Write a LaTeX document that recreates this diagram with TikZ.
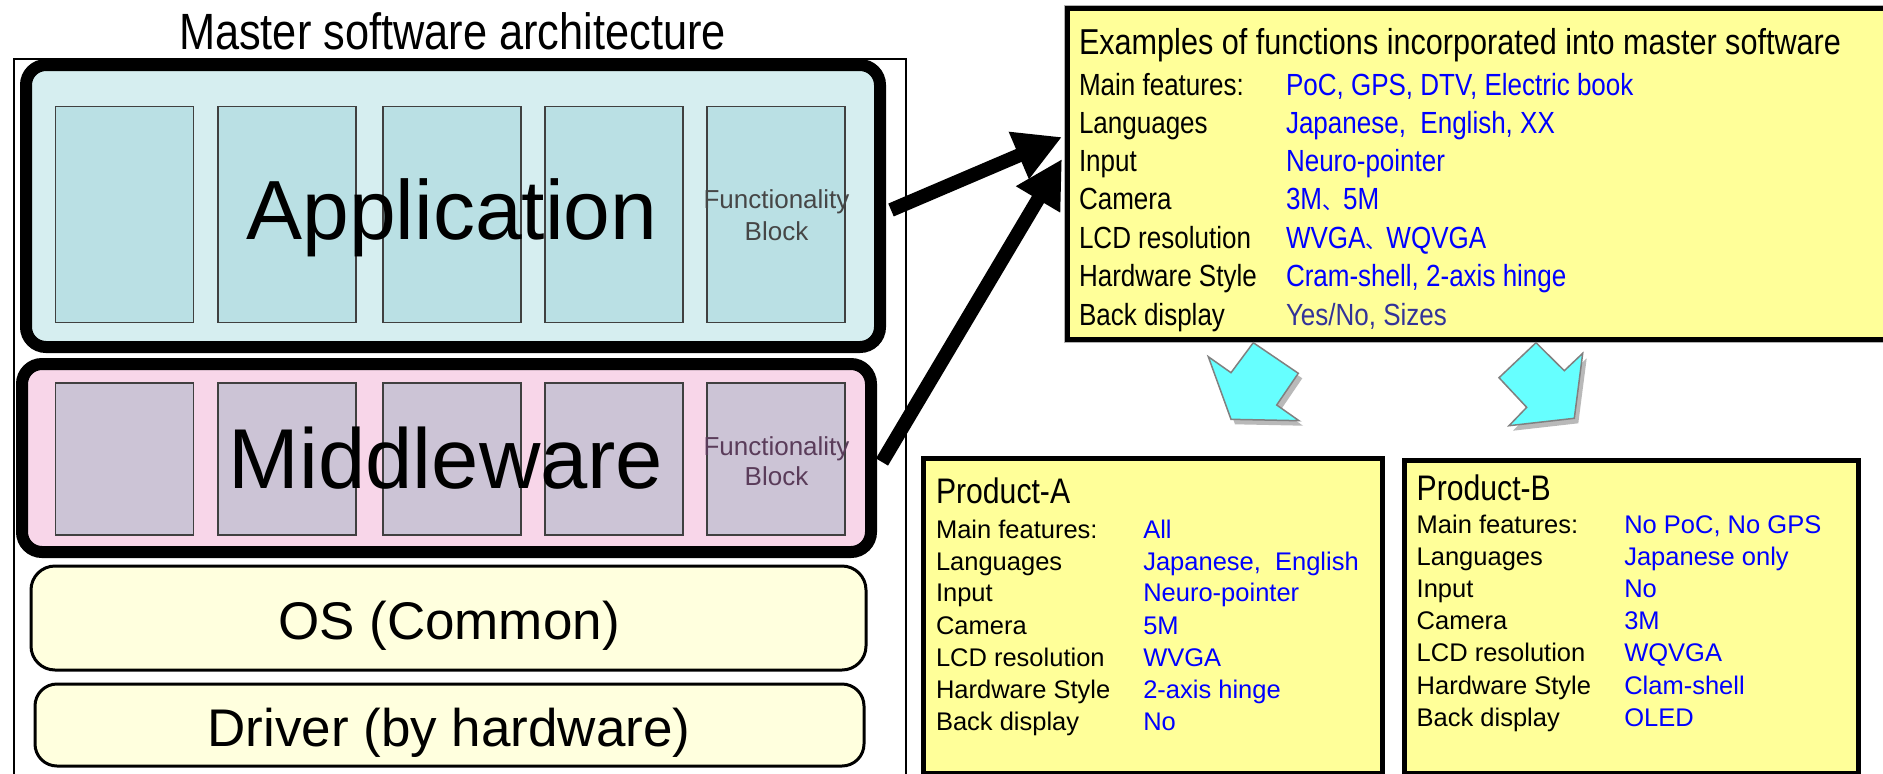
\documentclass[tikz,border=0pt]{standalone}
\usepackage{fontspec}
\setmainfont{Liberation Sans}
\newfontfamily\narrowfont[FakeStretch=0.85]{Liberation Sans}
\newfontfamily\cjkfont{Noto Sans CJK JP}
\usetikzlibrary{arrows.meta}

\definecolor{appbg}{RGB}{214,238,240}
\definecolor{appblk}{RGB}{186,224,228}
\definecolor{midbg}{RGB}{248,214,233}
\definecolor{midblk}{RGB}{204,196,214}
\definecolor{osbg}{RGB}{255,255,222}
\definecolor{notebg}{RGB}{255,255,153}
\definecolor{valblue}{RGB}{0,0,255}
\definecolor{valslate}{RGB}{51,51,153}
\definecolor{cyanfill}{RGB}{102,255,255}
\definecolor{fbgrey}{RGB}{70,70,70}
\definecolor{fbpurple}{RGB}{90,60,90}

\newcommand{\fsz}[1]{\fontsize{#1}{#1}\selectfont}
% ideographic comma, set a little smaller so the next word follows closely
\newcommand{\jcomma}{{\cjkfont\fsz{21}、}}
% one "label  value" line of a feature table
\newcommand{\inforow}[7]{%
  \node[lbl] (#1-l) at (#2,#4) {#5};
  \node[lbl, text=#6] (#1-v) at (#3,#4) {#7};}

\begin{document}
\begin{tikzpicture}[x=1pt,y=-1pt,
  lbl/.style={inner sep=0pt, outer sep=0pt, anchor=base west},
  ctr/.style={inner sep=0pt, outer sep=0pt, anchor=base},
  layerbox/.style={draw=black, line width=12pt, rounded corners=20pt, inner sep=0pt},
  lowerbox/.style={draw=black, line width=3pt, rounded corners=24pt, fill=osbg, inner sep=0pt},
  fnblock/.style={draw=black!75, line width=1.2pt, inner sep=0pt, minimum width=138pt},
  notebox/.style={draw=black, line width=5pt, fill=notebg, inner sep=0pt, anchor=north west},
  bigarrow/.style={line width=14pt, -{Triangle[length=47pt,width=48pt]}},
  cyanarrow/.style={draw=gray, line width=1.5pt, fill=cyanfill, line join=miter},
  arrowshadow/.style={fill=gray!55}
]
\useasboundingbox (0,0) rectangle (1883,774);
\fill[white] (0,0) rectangle (1883,774);

% ---------- master software architecture stack ----------
\node[ctr, font=\narrowfont\fsz{51}] (title) at (452.5,49) {Master software architecture};
\node[draw=black, line width=2pt, inner sep=0pt, anchor=north west,
      minimum width=892pt, minimum height=760pt] (frame) at (13,58) {};

\node[layerbox, fill=appbg, minimum width=854pt, minimum height=282pt] (app) at (453,206) {};
\node[layerbox, fill=midbg, minimum width=849pt, minimum height=188pt] (mid) at (446.5,458) {};
\node[lowerbox, minimum width=835pt, minimum height=104pt] (os) at (448.5,618) {};
\node[lowerbox, rounded corners=22pt, minimum width=829pt, minimum height=82pt] (drv) at (449.5,725) {};

\foreach \cx [count=\i] in {124.7,287,452,614,776}{
  \node[fnblock, fill=appblk, minimum height=216pt] (appblk\i) at (\cx,214.7) {};
  \node[fnblock, fill=midblk, minimum height=152pt] (midblk\i) at (\cx,459) {};
}

\node[ctr, font=\fsz{84}] (apptext) at (452,239) {Application};
\node[ctr, font=\fsz{85}] (midtext) at (446,488) {Middleware};
\node[ctr, font=\fsz{26}, text=fbgrey] (appfb1) at (776.5,208) {Functionality};
\node[ctr, font=\fsz{26}, text=fbgrey] (appfb2) at (776.5,240) {Block};
\node[ctr, font=\fsz{26}, text=fbpurple] (midfb1) at (776.5,455) {Functionality};
\node[ctr, font=\fsz{26}, text=fbpurple] (midfb2) at (776.5,485) {Block};
\node[ctr, font=\fsz{53}] (ostext) at (449,639) {OS (Common)};
\node[ctr, font=\fsz{53}] (drvtext) at (449,746) {Driver (by hardware)};

% ---------- feature catalogue ----------
\node[notebox, preaction={draw=gray!60, line width=7pt},
      minimum width=840pt, minimum height=331pt] (ex) at (1065,6) {};
\begin{scope}[every node/.append style={font=\narrowfont\fsz{30.6}}]
  \node[lbl, font=\narrowfont\fsz{36}] (extitle) at (1079,54) {Examples of functions incorporated into master software};
  \inforow{ex1}{1079}{1286}{95}{Main features:}{valblue}{PoC, GPS, DTV, Electric book}
  \inforow{ex2}{1079}{1286}{133}{Languages}{valblue}{Japanese,\ \ English, XX}
  \inforow{ex3}{1079}{1286}{171}{Input}{valblue}{Neuro-pointer}
  \inforow{ex4}{1079}{1286}{209}{Camera}{valblue}{3M\jcomma 5M}
  \inforow{ex5}{1079}{1286}{248}{LCD resolution}{valblue}{WVGA\jcomma WQVGA}
  \inforow{ex6}{1079}{1286}{286}{Hardware Style}{valblue}{Cram-shell, 2-axis hinge}
  \inforow{ex7}{1079}{1286}{325}{Back display}{valslate}{Yes/No, Sizes}
\end{scope}

% arrows from the layers to the catalogue
\coordinate (appout) at (891,210);
\coordinate (appin) at (1062,137);
\coordinate (midout) at (882,462);
\coordinate (midin) at (1062,159);
\draw[bigarrow] (appout) -- (appin);
\draw[bigarrow] (midout) -- (midin);

% ---------- block arrows towards the products ----------
\begin{scope}[shift={(4,5)}]
  \fill[arrowshadow] (1208.3,356.7) -- (1231,372.7) -- (1253.3,342.7) -- (1298.3,373.3)
     -- (1276.7,405) -- (1299,420.7) -- (1231,419.3) -- cycle;
  \fill[arrowshadow] (1499,377.7) -- (1536,342.7) -- (1564.3,370.7) -- (1582.7,353.3)
     -- (1574.3,418.3) -- (1509,425.7) -- (1526.7,407.3) -- cycle;
\end{scope}
\draw[cyanarrow] (1208.3,356.7) -- (1231,372.7) -- (1253.3,342.7) -- (1298.3,373.3)
   -- (1276.7,405) -- (1299,420.7) -- (1231,419.3) -- cycle;
\draw[cyanarrow] (1499,377.7) -- (1536,342.7) -- (1564.3,370.7) -- (1582.7,353.3)
   -- (1574.3,418.3) -- (1509,425.7) -- (1526.7,407.3) -- cycle;

% ---------- products ----------
\node[notebox, minimum width=459pt, minimum height=315pt] (pa) at (920.5,455.5) {};
\node[notebox, minimum width=454pt, minimum height=313pt] (pb) at (1402,458) {};

\begin{scope}[every node/.append style={font=\fsz{25.5}}]
  \node[lbl, font=\narrowfont\fsz{35.5}] (patitle) at (936,503) {Product-A};
  \inforow{pa1}{936}{1143.3}{538.3}{Main features:}{valblue}{All}
  \inforow{pa2}{936}{1143.3}{570.7}{Languages}{valblue}{Japanese,\ \ English}
  \inforow{pa3}{936}{1143.3}{601.7}{Input}{valblue}{Neuro-pointer}
  \inforow{pa4}{936}{1143.3}{634}{Camera}{valblue}{5M}
  \inforow{pa5}{936}{1143.3}{666.7}{LCD resolution}{valblue}{WVGA}
  \inforow{pa6}{936}{1143.3}{698.3}{Hardware Style}{valblue}{2-axis hinge}
  \inforow{pa7}{936}{1143.3}{730}{Back display}{valblue}{No}

  \node[lbl, font=\narrowfont\fsz{35.5}] (pbtitle) at (1416.7,500.7) {Product-B};
  \inforow{pb1}{1416.7}{1624.3}{533.3}{Main features:}{valblue}{No PoC, No GPS}
  \inforow{pb2}{1416.7}{1624.3}{565}{Languages}{valblue}{Japanese only}
  \inforow{pb3}{1416.7}{1624.3}{597.3}{Input}{valblue}{No}
  \inforow{pb4}{1416.7}{1624.3}{629.3}{Camera}{valblue}{3M}
  \inforow{pb5}{1416.7}{1624.3}{661.7}{LCD resolution}{valblue}{WQVGA}
  \inforow{pb6}{1416.7}{1624.3}{694.3}{Hardware Style}{valblue}{Clam-shell}
  \inforow{pb7}{1416.7}{1624.3}{726}{Back display}{valblue}{OLED}
\end{scope}
\end{tikzpicture}
\end{document}
